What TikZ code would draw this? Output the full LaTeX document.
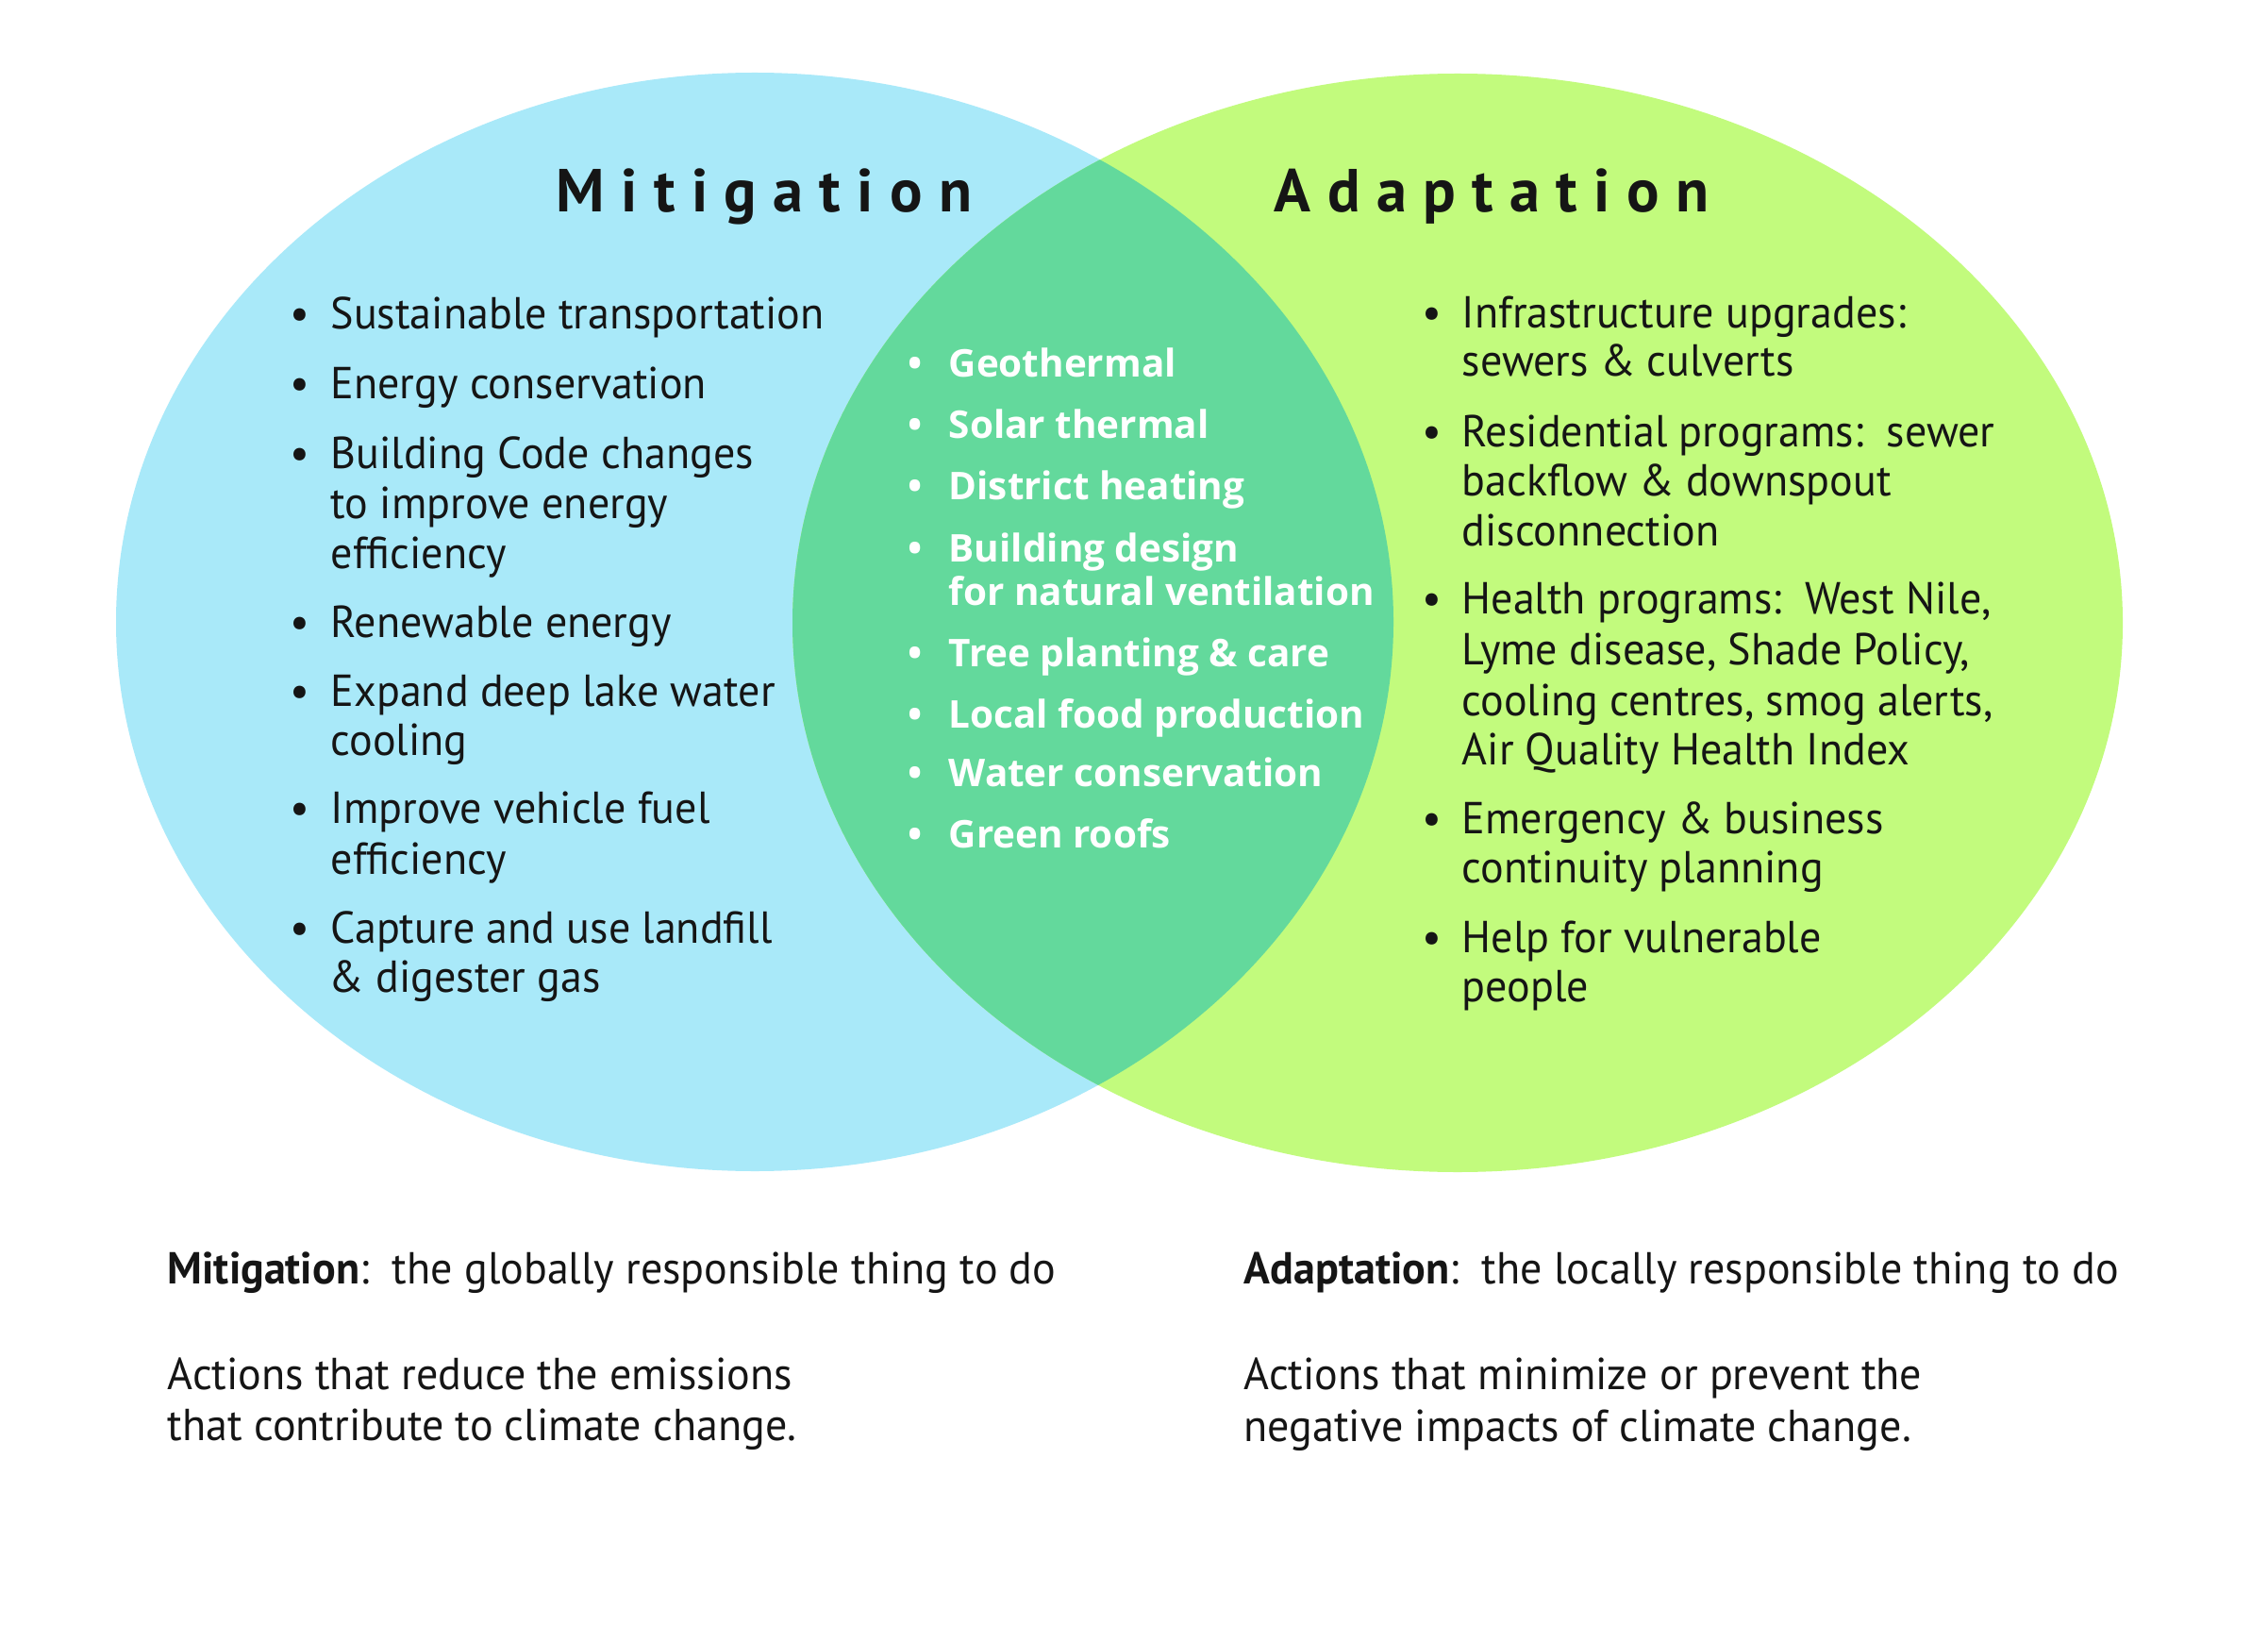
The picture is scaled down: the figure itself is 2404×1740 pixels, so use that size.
\documentclass[tikz,border=0pt]{standalone}
\usepackage{fontspec}
\setmainfont{PT Sans}[FakeStretch=0.97]
\newfontfamily\titlefont{PT Sans}[LetterSpace=27]
\newfontfamily\midfont{Open Sans}
\definecolor{mitblue}{HTML}{A9E9F9}
\definecolor{adagreen}{HTML}{C2FB7D}
\definecolor{bothgreen}{HTML}{63D99C}
\definecolor{ink}{HTML}{151515}
\tikzset{
  body/.style={font=\fontsize{13.5}{15}\selectfont, text=ink, inner sep=0pt, anchor=base west},
  mid/.style={font=\midfont\bfseries\fontsize{11.5}{14}\selectfont, text=white, inner sep=0pt, anchor=base west},
  ttl/.style={font=\titlefont\bfseries\fontsize{18.3}{20}\selectfont, text=ink, inner sep=0pt, anchor=base west},
}
\begin{document}
\begin{tikzpicture}[x=0.01cm,y=-0.01cm]
\useasboundingbox (0,0) rectangle (2404,1740);
\fill[white] (0,0) rectangle (2404,1740);
\fill[mitblue] (800,659) ellipse [x radius=677, y radius=582];
\fill[adagreen] (1545,660) ellipse [x radius=705, y radius=582];
\begin{scope}
  \clip (800,659) ellipse [x radius=677, y radius=582];
  \fill[bothgreen] (1545,660) ellipse [x radius=705, y radius=582];
\end{scope}
% titles
\node[ttl] (tm) at (589,225) {Mitigation};
\node[ttl] (ta) at (1350,225) {Adaptation};
% left column
\node[body] (lb1) at (307,349) {\textbullet};
\node[body] (l1) at (350,349) {Sustainable transportation};
\node[body] (lb2) at (307,423) {\textbullet};
\node[body] (l2) at (350,423) {Energy conservation};
\node[body] (lb3) at (307,497) {\textbullet};
\node[body] (l3a) at (350,497) {Building Code changes};
\node[body] (l3b) at (350,550) {to improve energy};
\node[body] (l3c) at (350,603) {efficiency};
\node[body] (lb4) at (307,675) {\textbullet};
\node[body] (l4) at (350,675) {Renewable energy};
\node[body] (lb5) at (307,748) {\textbullet};
\node[body] (l5a) at (350,748) {Expand deep lake water};
\node[body] (l5b) at (350,800) {cooling};
\node[body] (lb6) at (307,872) {\textbullet};
\node[body] (l6a) at (350,872) {Improve vehicle fuel};
\node[body] (l6b) at (350,926) {efficiency};
\node[body] (lb7) at (307,999) {\textbullet};
\node[body] (l7a) at (350,999) {Capture and use landfill};
\node[body] (l7b) at (348,1051) {\& digester gas};
% middle column
\node[mid] (mb1) at (962,400) {\textbullet};
\node[mid] (m1) at (1005,400) {Geothermal};
\node[mid] (mb2) at (962,465) {\textbullet};
\node[mid] (m2) at (1005,465) {Solar thermal};
\node[mid] (mb3) at (962,530) {\textbullet};
\node[mid] (m3) at (1005,530) {District heating};
\node[mid] (mb4) at (962,595) {\textbullet};
\node[mid] (m4a) at (1005,595) {Building design};
\node[mid] (m4b) at (1005,641) {for natural ventilation};
\node[mid] (mb5) at (962,706) {\textbullet};
\node[mid] (m5) at (1005,706) {Tree planting \& care};
\node[mid] (mb6) at (962,771) {\textbullet};
\node[mid] (m6) at (1005,771) {Local food production};
\node[mid] (mb7) at (962,833) {\textbullet};
\node[mid] (m7) at (1005,833) {Water conservation};
\node[mid] (mb8) at (962,898) {\textbullet};
\node[mid] (m8) at (1005,898) {Green roofs};
% right column
\node[body] (rb1) at (1507,348) {\textbullet};
\node[body] (r1a) at (1549,348) {Infrastructure upgrades:};
\node[body] (r1b) at (1549,399) {sewers \& culverts};
\node[body] (rb2) at (1507,474) {\textbullet};
\node[body] (r2a) at (1549,474) {Residential programs:\ \ sewer};
\node[body] (r2b) at (1549,526) {backflow \& downspout};
\node[body] (r2c) at (1549,578) {disconnection};
\node[body] (rb3) at (1507,650) {\textbullet};
\node[body] (r3a) at (1549,650) {Health programs:\ \ West Nile,};
\node[body] (r3b) at (1549,704) {Lyme disease, Shade Policy,};
\node[body] (r3c) at (1549,758) {cooling centres, smog alerts,};
\node[body] (r3d) at (1549,810) {Air Quality Health Index};
\node[body] (rb4) at (1507,883) {\textbullet};
\node[body] (r4a) at (1549,883) {Emergency \& business};
\node[body] (r4b) at (1549,935) {continuity planning};
\node[body] (rb5) at (1507,1009) {\textbullet};
\node[body] (r5a) at (1549,1009) {Help for vulnerable};
\node[body] (r5b) at (1549,1061) {people};
% bottom texts
\node[body] (bm) at (177,1360) {\textbf{Mitigation}:\ \ the globally responsible thing to do};
\node[body] (bm1) at (177,1472) {Actions that reduce the emissions};
\node[body] (bm2) at (177,1526) {that contribute to climate change.};
\node[body] (ba) at (1318,1360) {\textbf{Adaptation}:\ \ the locally responsible thing to do};
\node[body] (ba1) at (1318,1472) {Actions that minimize or prevent the};
\node[body] (ba2) at (1318,1527) {negative impacts of climate change.};
\end{tikzpicture}
\end{document}
